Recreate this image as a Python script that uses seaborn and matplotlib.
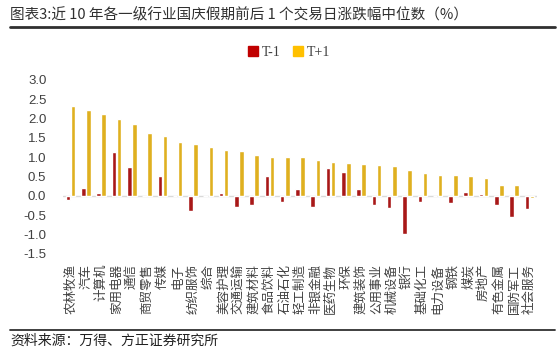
import pandas as pd
import matplotlib.pyplot as plt
import seaborn as sns
from matplotlib.lines import Line2D

industries = ['农林牧渔', '汽车', '计算机', '家用电器', '通信', '商贸零售', '传媒', '电子',
              '纺织服饰', '综合', '美容护理', '交通运输', '建筑材料', '食品饮料', '石油石化',
              '轻工制造', '非银金融', '医药生物', '环保', '建筑装饰', '公用事业', '机械设备',
              '银行', '基础化工', '电力设备', '钢铁', '煤炭', '房地产', '有色金属', '国防军工',
              '社会服务']
t_minus_1 = [-0.10, 0.20, 0.08, 1.14, 0.75, -0.01, 0.52, -0.01, -0.38, 0.01, 0.08,
             -0.29, -0.22, 0.53, -0.16, 0.19, -0.28, 0.72, 0.62, 0.17, -0.22, -0.31,
             -0.97, -0.16, 0.00, -0.17, 0.10, 0.05, -0.22, -0.55, -0.33]
t_plus_1 = [2.33, 2.22, 2.11, 1.99, 1.85, 1.64, 1.56, 1.40, 1.34, 1.28, 1.20, 1.17,
            1.07, 1.02, 1.02, 1.00, 0.93, 0.89, 0.85, 0.84, 0.81, 0.78, 0.67, 0.59,
            0.55, 0.54, 0.51, 0.47, 0.28, 0.28, -0.04]

df = pd.DataFrame({
    'industry': industries * 2,
    'value': t_minus_1 + t_plus_1,
    'period': ['T-1'] * len(industries) + ['T+1'] * len(industries),
})

sns.set_style('white')
plt.rcParams['font.family'] = ['Noto Sans CJK SC', 'DejaVu Sans']

fig = plt.figure(figsize=(5.59, 3.51), dpi=100)
ax = fig.add_axes([63 / 559, 1 - 254 / 351, 474 / 559, 174 / 351])

sns.barplot(data=df, x='industry', y='value', hue='period', order=industries,
            palette={'T-1': '#C00000', 'T+1': '#FFC000'}, width=0.66, gap=0.1,
            ax=ax, legend=False)

ax.axhline(0, color='#d9d9d9', lw=1, zorder=0)
ax.set_xlim(-0.5, len(industries) - 0.5)
ax.set_ylim(-1.5, 3.0)
ax.set_yticks([-1.5, -1.0, -0.5, 0.0, 0.5, 1.0, 1.5, 2.0, 2.5, 3.0])
ax.set_yticklabels([f'{v:.1f}' for v in ax.get_yticks()], family='Liberation Sans',
                   fontsize=9.5, color='#404040')
ax.set_xticks(range(len(industries)))
ax.set_xticklabels(industries, rotation=90, fontsize=9, color='#404040')
ax.tick_params(axis='x', length=0, pad=7)
ax.tick_params(axis='y', length=0, pad=12)
ax.set_xlabel('')
ax.set_ylabel('')
for s in ax.spines.values():
    s.set_visible(False)

handles = [plt.Rectangle((0, 0), 1, 1, color='#C00000'),
           plt.Rectangle((0, 0), 1, 1, color='#FFC000')]
fig.legend(handles, ['T-1', 'T+1'], loc='center', bbox_to_anchor=(289 / 559, 1 - 52 / 351),
           ncol=2, frameon=False, prop={'family': 'Liberation Serif', 'size': 10},
           handlelength=0.7, handleheight=0.7, handletextpad=0.3, columnspacing=0.9,
           labelcolor='#404040')

fig.text(10 / 559, 1 - 15 / 351, '图表3:近 10 年各一级行业国庆假期前后 1 个交易日涨跌幅中位数（%）',
         fontsize=10.5, color='#303030', ha='left', va='center')
fig.add_artist(Line2D([10 / 559, 555 / 559], [1 - 27 / 351] * 2, color='#303030', lw=2))
fig.add_artist(Line2D([10 / 559, 555 / 559], [1 - 330 / 351] * 2, color='#303030', lw=1.3))
fig.text(10 / 559, 1 - 341 / 351, '资料来源：万得、方正证券研究所', fontsize=10,
         color='#202020', ha='left', va='center', style='italic')

fig.savefig('out.png', dpi=100)
